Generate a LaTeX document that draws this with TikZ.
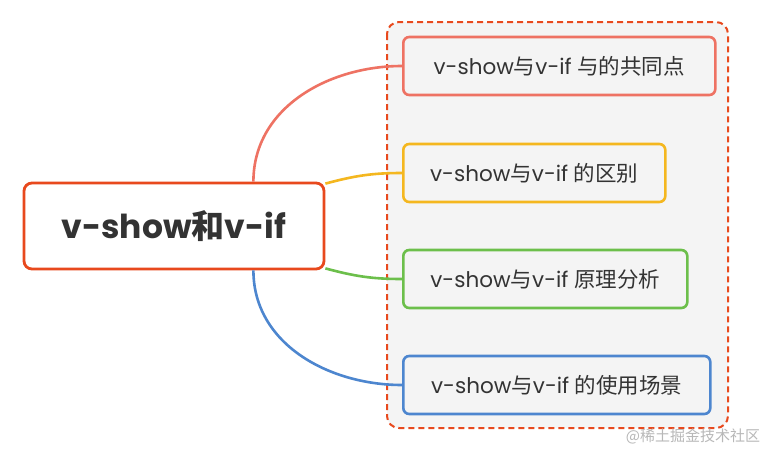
\documentclass[tikz,border=0pt]{standalone}
\usepackage{fontspec}
\setmainfont{Poppins}
\newfontfamily\cjk{Noto Sans CJK SC}
\definecolor{cred}{HTML}{E8491D}
\definecolor{csalmon}{HTML}{EE7263}
\definecolor{cyellow}{HTML}{F4B71F}
\definecolor{cgreen}{HTML}{6CBF4B}
\definecolor{cblue}{HTML}{4D86CF}
\definecolor{ctext}{HTML}{333333}
\definecolor{cbg}{HTML}{F4F4F4}
\tikzset{
  topic/.style={draw, line width=2.6pt, rounded corners=6pt, fill=cbg, text=ctext,
    font=\fontsize{21.5}{24}\selectfont, inner sep=0pt, anchor=west, minimum height=58pt},
  link/.style={line width=2.6pt},
}
\begin{document}
\begin{tikzpicture}[x=1pt,y=-1pt]
\useasboundingbox[fill=white] (0,0) rectangle (770,450);
% container
\draw[cred, line width=2pt, dash pattern=on 6pt off 4pt, fill=cbg, rounded corners=12pt]
  (387,22) rectangle (728,428);
% central node
\node[draw=cred, line width=2.8pt, rounded corners=8pt, fill=white, text=ctext,
  minimum width=300pt, minimum height=86pt, inner sep=0pt,
  font=\bfseries\fontsize{33}{36}\selectfont] (c) at (174,226) {v-show{\cjk\bfseries 和}v-if};
% topics
\node[topic, draw=csalmon, minimum width=312pt] (b1) at (402,66) {v-show{\cjk 与}v-if {\cjk 与的共同点}};
\node[topic, draw=cyellow, minimum width=262pt] (b2) at (402,173) {v-show{\cjk 与}v-if {\cjk 的区别}};
\node[topic, draw=cgreen, minimum width=284pt] (b3) at (402,279) {v-show{\cjk 与}v-if {\cjk 原理分析}};
\node[topic, draw=cblue, minimum width=307pt] (b4) at (402,385) {v-show{\cjk 与}v-if {\cjk 的使用场景}};
% connectors
\draw[link, csalmon] ([xshift=-72pt]c.north east) to[out=90, in=180] (b1.west);
\draw[link, cyellow] ([yshift=-2pt]c.north east) to[out=15, in=180] (b2.west);
\draw[link, cgreen] ([yshift=2pt]c.south east) to[out=-15, in=180] (b3.west);
\draw[link, cblue] ([xshift=-72pt]c.south east) to[out=-90, in=180] (b4.west);
% watermark
\node[text=black!28, font=\cjk\fontsize{15}{16}\selectfont, inner sep=0pt] (wm) at (693,436) {@稀土掘金技术社区};
\end{tikzpicture}
\end{document}
